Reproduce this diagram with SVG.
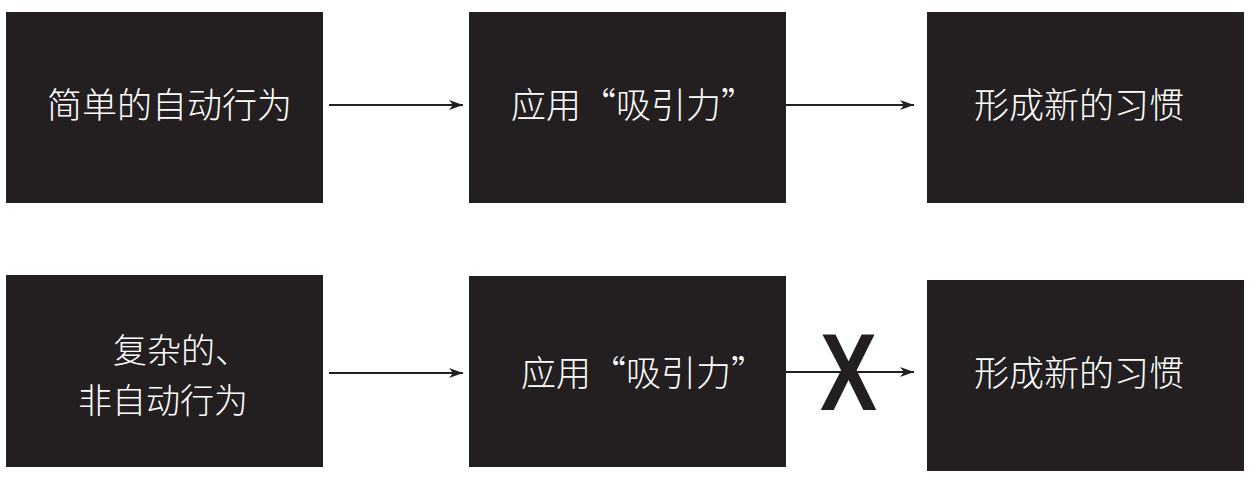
<svg xmlns="http://www.w3.org/2000/svg" width="1257" height="482" viewBox="0 0 1257 482">
<defs>
<marker id="ah" markerWidth="14" markerHeight="10" refX="14" refY="5" orient="auto" markerUnits="userSpaceOnUse">
<path d="M0,0 L14,5 L0,10 L4,5 Z" fill="#231f20"/>
</marker>
</defs>
<style>
.box{fill:#231f20;}
.t{fill:#ffffff;font-family:"Noto Sans CJK SC","Noto Sans CJK JP",sans-serif;font-size:35px;font-weight:300;}
.t2{font-size:34px;}
.c{stroke:#231f20;stroke-width:2;fill:none;marker-end:url(#ah);}
.x{fill:#231f20;font-family:"Liberation Sans",Arial,sans-serif;font-weight:bold;font-size:109px;}
</style>
<rect width="1257" height="482" fill="#ffffff"/>
<g id="n1"><rect class="box" x="6" y="12" width="317" height="191"/><text class="t" x="47" y="118">简单的自动行为</text></g>
<g id="n2"><rect class="box" x="469" y="12" width="317" height="191"/><text class="t" x="511" y="118">应用“吸引力”</text></g>
<g id="n3"><rect class="box" x="927" y="12" width="317" height="191"/><text class="t" x="974" y="118">形成新的习惯</text></g>
<g id="n4"><rect class="box" x="6" y="275" width="317" height="192"/><text class="t t2" x="113" y="363">复杂的、</text><text class="t t2" x="78" y="413">非自动行为</text></g>
<g id="n5"><rect class="box" x="469" y="276" width="317" height="191"/><text class="t" x="521" y="386">应用“吸引力”</text></g>
<g id="n6"><rect class="box" x="927" y="280" width="317" height="191"/><text class="t" x="974" y="386">形成新的习惯</text></g>
<g id="connectors">
<line class="c" x1="329" y1="105" x2="463" y2="105"/>
<line class="c" x1="786" y1="105" x2="914" y2="105"/>
<line class="c" x1="329" y1="373" x2="463" y2="373"/>
<line class="c" x1="786" y1="372" x2="914" y2="372"/>
<text class="x" x="820" y="410" textLength="57" lengthAdjust="spacingAndGlyphs">X</text>
</g>
</svg>
